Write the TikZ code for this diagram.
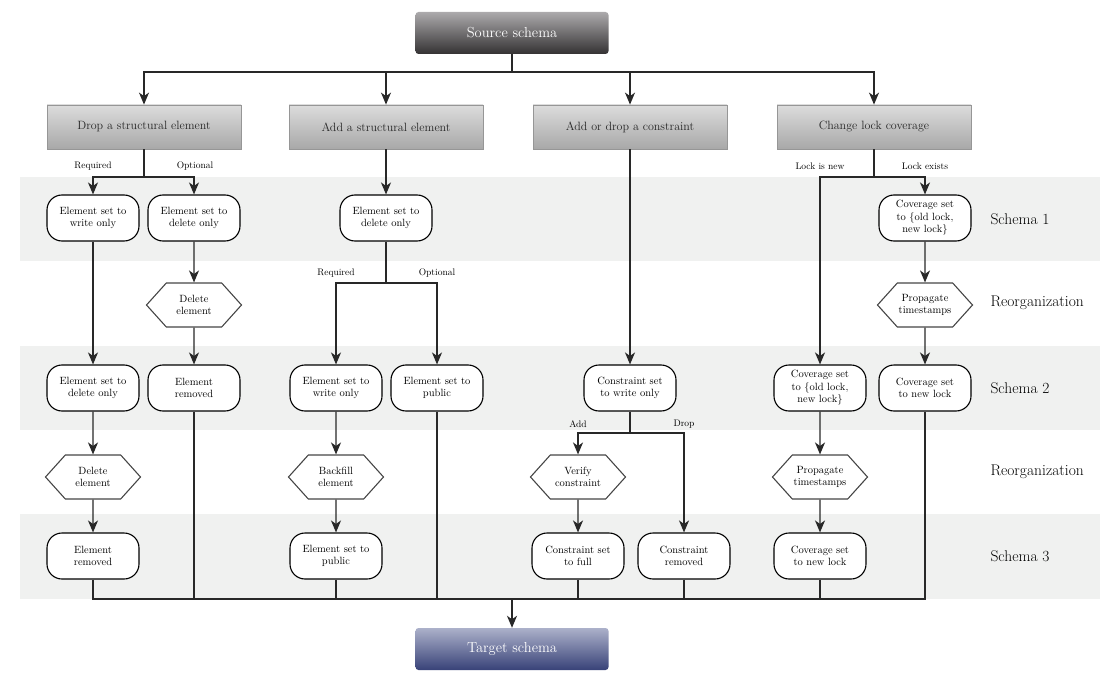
\documentclass[tikz,border=0pt]{standalone}
\usepackage{fontspec}
\usepackage{xcolor}
\usepackage{tikz}
\usetikzlibrary{shapes.symbols, arrows.meta, positioning, calc}

\definecolor{bandgray}{RGB}{240,241,240}
\definecolor{linegray}{RGB}{40,40,40}
\definecolor{hexedge}{RGB}{70,70,70}
\definecolor{catedge}{RGB}{150,150,150}

\tikzset{
  conn/.style={draw=linegray, line width=1.4pt},
  arr/.style={conn, -{Stealth[length=12pt,width=10pt,inset=3.5pt]}},
  stepnode/.style={draw=black, line width=1.1pt, fill=white, rounded corners=15pt,
    minimum width=92pt, minimum height=46pt, inner sep=2pt, align=center,
    font=\fontsize{10.5}{12.5}\selectfont},
  reorgnode/.style={shape=signal, signal to=east and west, signal pointer angle=96,
    draw=hexedge, line width=1.1pt, fill=white, minimum width=95pt, minimum height=44pt,
    inner sep=1pt, align=center, font=\fontsize{10.5}{12.5}\selectfont},
  catbox/.style={draw=catedge, line width=0.8pt, top color={rgb,255:red,220;green,220;blue,220},
    bottom color={rgb,255:red,168;green,168;blue,168}, minimum width=194pt, minimum height=44pt,
    text=black!85, font=\fontsize{12}{14}\selectfont},
  endbox/.style={rounded corners=3pt, minimum width=193pt, minimum height=42pt,
    text=white, font=\fontsize{14.5}{17}\selectfont},
  lbl/.style={font=\fontsize{9.5}{11}\selectfont},
  rowlbl/.style={anchor=west, font=\fontsize{15.5}{18}\selectfont},
}

\begin{document}
\begin{tikzpicture}[x=1pt, y=-1pt]
  \useasboundingbox (0,0) rectangle (1100,687);
  % Bands
  \fill[bandgray] (20,177) rectangle (1100,261);
  \fill[bandgray] (20,346) rectangle (1100,430);
  \fill[bandgray] (20,514) rectangle (1100,599);
  \node[rowlbl] (row1) at (987,219) {Schema 1};
  \node[rowlbl] (row2) at (987,303) {Reorganization};
  \node[rowlbl] (row3) at (987,388) {Schema 2};
  \node[rowlbl] (row4) at (987,472) {Reorganization};
  \node[rowlbl] (row5) at (987,556) {Schema 3};

  % Source and change kinds
  \node[endbox, top color={rgb,255:red,172;green,170;blue,172},
    bottom color={rgb,255:red,52;green,50;blue,51}] (src) at (512,33) {Source schema};
  \node[catbox] (drop) at (144,127) {Drop a structural element};
  \node[catbox] (add) at (386,127) {Add a structural element};
  \node[catbox] (cons) at (630,127) {Add or drop a constraint};
  \node[catbox] (lock) at (874,127) {Change lock coverage};
  \coordinate (top) at (512,72);
  \draw[conn] (src) -- (top);
  \foreach \c in {drop,add,cons,lock}
    \draw[arr] (top) -| (\c);

  % Drop a structural element
  \node[stepnode] (a1) at (93,218) {Element set to\\write only};
  \node[stepnode] (a2) at (93,388) {Element set to\\delete only};
  \node[reorgnode] (a3) at (93,477) {Delete\\element};
  \node[stepnode] (a4) at (93,556) {Element\\removed};
  \node[stepnode] (b1) at (194,218) {Element set to\\delete only};
  \node[reorgnode] (b2) at (194,305) {Delete\\element};
  \node[stepnode] (b3) at (194,388) {Element\\removed};
  \node[lbl] (req1) at (93,166) {Required};
  \node[lbl] (opt1) at (195,166) {Optional};
  \coordinate (split1) at (144,177);
  \draw[conn] (drop) -- (split1);
  \draw[arr] (split1) -| (a1);
  \draw[arr] (split1) -| (b1);
  \draw[arr] (a1) -- (a2);
  \draw[arr] (a2) -- (a3);
  \draw[arr] (a3) -- (a4);
  \draw[arr] (b1) -- (b2);
  \draw[arr] (b2) -- (b3);

  % Add a structural element
  \node[stepnode] (d1) at (386,218) {Element set to\\delete only};
  \node[stepnode] (c1) at (336,388) {Element set to\\write only};
  \node[reorgnode] (c2) at (336,477) {Backfill\\element};
  \node[stepnode] (c3) at (336,556) {Element set to\\public};
  \node[stepnode] (e1) at (437,388) {Element set to\\public};
  \node[lbl] (req2) at (336,273) {Required};
  \node[lbl] (opt2) at (437,273) {Optional};
  \coordinate (split2) at (386,283);
  \draw[arr] (add) -- (d1);
  \draw[conn] (d1) -- (split2);
  \draw[arr] (split2) -| (c1);
  \draw[arr] (split2) -| (e1);
  \draw[arr] (c1) -- (c2);
  \draw[arr] (c2) -- (c3);

  % Add or drop a constraint
  \node[stepnode] (g1) at (630,388) {Constraint set\\to write only};
  \node[reorgnode] (f1) at (578,477) {Verify\\constraint};
  \node[stepnode] (f2) at (578,556) {Constraint set\\to full};
  \node[stepnode] (h1) at (684,556) {Constraint\\removed};
  \node[lbl] (addl) at (578,424) {Add};
  \node[lbl] (dropl) at (684,424) {Drop};
  \coordinate (split3) at (630,433);
  \draw[arr] (cons) -- (g1);
  \draw[conn] (g1) -- (split3);
  \draw[arr] (split3) -| (f1);
  \draw[arr] (split3) -| (h1);
  \draw[arr] (f1) -- (f2);

  % Change lock coverage
  \node[stepnode] (j1) at (925,218) {Coverage set\\to \{old lock,\\new lock\}};
  \node[reorgnode] (j2) at (925,305) {Propagate\\timestamps};
  \node[stepnode] (j3) at (925,388) {Coverage set\\to new lock};
  \node[stepnode] (i1) at (820,388) {Coverage set\\to \{old lock,\\new lock\}};
  \node[reorgnode] (i2) at (820,477) {Propagate\\timestamps};
  \node[stepnode] (i3) at (820,556) {Coverage set\\to new lock};
  \node[lbl] (newl) at (820,166) {Lock is new};
  \node[lbl] (exl) at (925,166) {Lock exists};
  \coordinate (split4) at (874,177);
  \draw[conn] (lock) -- (split4);
  \draw[arr] (split4) -| (j1);
  \draw[arr] (split4) -| (i1);
  \draw[arr] (j1) -- (j2);
  \draw[arr] (j2) -- (j3);
  \draw[arr] (i1) -- (i2);
  \draw[arr] (i2) -- (i3);

  % Target
  \node[endbox, top color={rgb,255:red,172;green,177;blue,202},
    bottom color={rgb,255:red,56;green,66;blue,120}] (tgt) at (512,649) {Target schema};
  \coordinate (merge) at (512,599);
  \foreach \n in {a4,b3,c3,e1,f2,h1,i3,j3}
    \draw[conn] (\n) |- (merge);
  \draw[arr] (merge) -- (tgt);
\end{tikzpicture}
\end{document}
